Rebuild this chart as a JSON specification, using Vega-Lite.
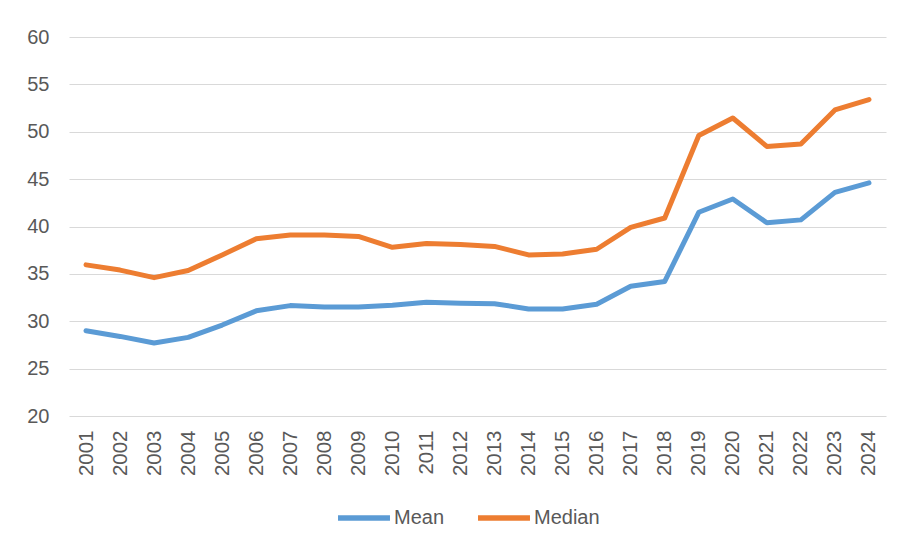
{
  "$schema": "https://vega.github.io/schema/vega-lite/v6.json",
  "width": 817,
  "height": 379,
  "autosize": {"type": "none"},
  "padding": {"left": 69, "top": 37, "right": 14, "bottom": 130},
  "background": "#ffffff",
  "data": {
    "values": [
      {"year": "2001", "series": "Mean", "value": 29.0},
      {"year": "2002", "series": "Mean", "value": 28.4},
      {"year": "2003", "series": "Mean", "value": 27.7},
      {"year": "2004", "series": "Mean", "value": 28.3},
      {"year": "2005", "series": "Mean", "value": 29.6},
      {"year": "2006", "series": "Mean", "value": 31.1},
      {"year": "2007", "series": "Mean", "value": 31.65},
      {"year": "2008", "series": "Mean", "value": 31.5},
      {"year": "2009", "series": "Mean", "value": 31.5},
      {"year": "2010", "series": "Mean", "value": 31.7},
      {"year": "2011", "series": "Mean", "value": 32.0},
      {"year": "2012", "series": "Mean", "value": 31.9},
      {"year": "2013", "series": "Mean", "value": 31.85},
      {"year": "2014", "series": "Mean", "value": 31.3},
      {"year": "2015", "series": "Mean", "value": 31.3},
      {"year": "2016", "series": "Mean", "value": 31.8},
      {"year": "2017", "series": "Mean", "value": 33.7},
      {"year": "2018", "series": "Mean", "value": 34.2},
      {"year": "2019", "series": "Mean", "value": 41.5},
      {"year": "2020", "series": "Mean", "value": 42.9},
      {"year": "2021", "series": "Mean", "value": 40.4},
      {"year": "2022", "series": "Mean", "value": 40.7},
      {"year": "2023", "series": "Mean", "value": 43.6},
      {"year": "2024", "series": "Mean", "value": 44.6},
      {"year": "2001", "series": "Median", "value": 35.95},
      {"year": "2002", "series": "Median", "value": 35.4},
      {"year": "2003", "series": "Median", "value": 34.6},
      {"year": "2004", "series": "Median", "value": 35.35},
      {"year": "2005", "series": "Median", "value": 37.0},
      {"year": "2006", "series": "Median", "value": 38.7},
      {"year": "2007", "series": "Median", "value": 39.1},
      {"year": "2008", "series": "Median", "value": 39.1},
      {"year": "2009", "series": "Median", "value": 38.95},
      {"year": "2010", "series": "Median", "value": 37.8},
      {"year": "2011", "series": "Median", "value": 38.2},
      {"year": "2012", "series": "Median", "value": 38.1},
      {"year": "2013", "series": "Median", "value": 37.9},
      {"year": "2014", "series": "Median", "value": 37.0},
      {"year": "2015", "series": "Median", "value": 37.1},
      {"year": "2016", "series": "Median", "value": 37.6},
      {"year": "2017", "series": "Median", "value": 39.9},
      {"year": "2018", "series": "Median", "value": 40.9},
      {"year": "2019", "series": "Median", "value": 49.6},
      {"year": "2020", "series": "Median", "value": 51.45},
      {"year": "2021", "series": "Median", "value": 48.45},
      {"year": "2022", "series": "Median", "value": 48.7},
      {"year": "2023", "series": "Median", "value": 52.3},
      {"year": "2024", "series": "Median", "value": 53.4}
    ]
  },
  "mark": {"type": "line", "strokeWidth": 5, "strokeCap": "round", "strokeJoin": "round"},
  "encoding": {
    "x": {
      "field": "year",
      "type": "ordinal",
      "scale": {"type": "point", "padding": 0.5},
      "axis": {
        "title": null,
        "labelAngle": -90,
        "labelFontSize": 20.5,
        "labelPadding": 14,
        "ticks": false,
        "domain": false,
        "grid": false,
        "labelColor": "#595959",
        "labelFont": "Liberation Sans"
      }
    },
    "y": {
      "field": "value",
      "type": "quantitative",
      "scale": {"domain": [20, 60], "nice": false, "zero": false},
      "axis": {
        "title": null,
        "values": [20, 25, 30, 35, 40, 45, 50, 55, 60],
        "labelFontSize": 20,
        "labelPadding": 20,
        "ticks": false,
        "domain": false,
        "grid": true,
        "gridColor": "#d9d9d9",
        "gridWidth": 1.2,
        "labelColor": "#595959",
        "labelFont": "Liberation Sans"
      }
    },
    "color": {
      "field": "series",
      "type": "nominal",
      "scale": {"domain": ["Mean", "Median"], "range": ["#5b9bd5", "#ed7d31"]},
      "legend": {
        "title": null,
        "orient": "none",
        "direction": "horizontal",
        "legendX": 266,
        "legendY": 452,
        "symbolType": "stroke",
        "symbolSize": 2700,
        "symbolStrokeWidth": 5.5,
        "labelFontSize": 20,
        "labelColor": "#595959",
        "labelFont": "Liberation Sans",
        "labelOffset": 1,
        "columnPadding": 22
      }
    }
  },
  "config": {"view": {"stroke": null}}
}
